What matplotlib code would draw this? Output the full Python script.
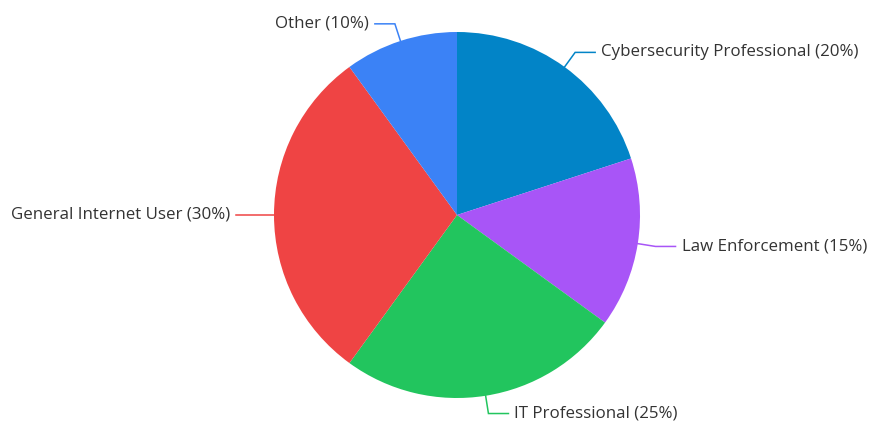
import numpy as np
import matplotlib.pyplot as plt

# user groups and their share (%)
labels = ["Cybersecurity Professional", "Law Enforcement", "IT Professional",
          "General Internet User", "Other"]
shares = [20, 15, 25, 30, 10]
colors = ["#0284c7", "#a855f7", "#22c55e", "#ef4444", "#3b82f6"]

W, H = 870, 426
fig = plt.figure(figsize=(W / 100, H / 100), dpi=100)
ax = fig.add_axes([0, 0, 1, 1])

cx, cy, r = 457, 215, 183
# y axis is flipped, so counterclock=True runs clockwise on screen;
# startangle=-90 puts the first wedge at 12 o'clock
wedges, _ = ax.pie(shares, colors=colors, center=(cx, cy), radius=r,
                   startangle=-90, counterclock=True, frame=True,
                   wedgeprops=dict(linewidth=0))
ax.set_xlim(0, W)
ax.set_ylim(H, 0)
ax.set_aspect("equal")
ax.axis("off")

len1, len2, gap = 18, 20, 6
for w, lab, val, col in zip(wedges, labels, shares, colors):
    a = np.deg2rad((w.theta1 + w.theta2) / 2)
    dx, dy = np.cos(a), np.sin(a)
    x0, y0 = cx + r * dx, cy + r * dy
    x1, y1 = cx + (r + len1) * dx, cy + (r + len1) * dy
    side = 1 if dx >= 0 else -1
    x2 = x1 + side * len2
    ax.plot([x0, x1, x2], [y0, y1, y1], color=col, lw=1.1,
            solid_joinstyle="miter")
    ax.text(x2 + side * gap, y1, f"{lab} ({val}%)",
            ha="left" if side > 0 else "right", va="center",
            fontsize=12.2, color="#333333", family=["Open Sans", "DejaVu Sans"])

fig.savefig("out.png", dpi=100)
